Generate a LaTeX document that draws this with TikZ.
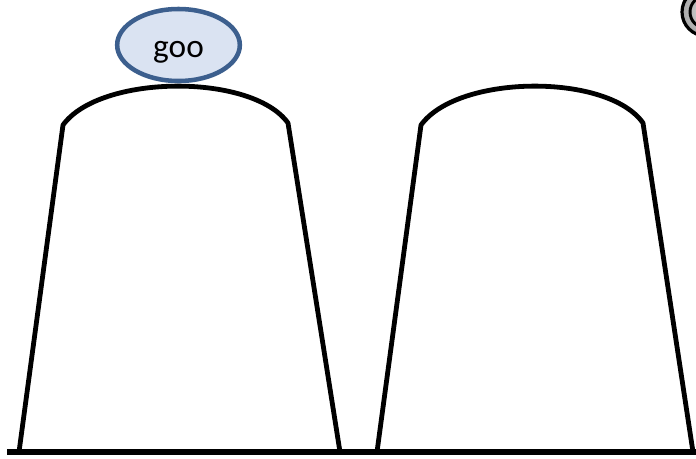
\documentclass[tikz,border=0pt]{standalone}
\usepackage{fontspec}
\setmainfont{Carlito}
\usetikzlibrary{shapes.geometric}
\definecolor{ellfill}{HTML}{DAE3F2}
\definecolor{ellborder}{HTML}{3C5F8E}
\begin{document}
\begin{tikzpicture}[x=0.75pt,y=-0.75pt,
  outline/.style={line width=3.6pt,line join=round},
  blob/.style={ellipse,draw=ellborder,fill=ellfill,line width=3.4pt,minimum width=92pt,minimum height=54pt,inner sep=0pt,font=\fontsize{25}{28}\selectfont,text height=19pt,text depth=0pt}]
\useasboundingbox (0,0) rectangle (696,458);
% left hump
\draw[outline] (19,452) -- (63,125) .. controls (100,74) and (252,73) .. (288,123) -- (340,452);
% right hump
\draw[outline] (377,452) -- (421,125) .. controls (458,74) and (608,73) .. (643,123) -- (693,452);
% ground
\draw[line width=3.8pt] (7,452) -- (696,452);
% ellipse
\node[blob] (goo) at (178.5,45) {goo};
% partial circle top right
\begin{scope}
\clip (0,0) rectangle (696,458);
\shade[inner color=gray!30,outer color=gray!70] (706,12) circle[radius=25];
\draw[line width=2.4pt] (706,12) circle[radius=24];
\draw[line width=2.2pt] (706,12) circle[radius=16];
\end{scope}
\end{tikzpicture}
\end{document}
